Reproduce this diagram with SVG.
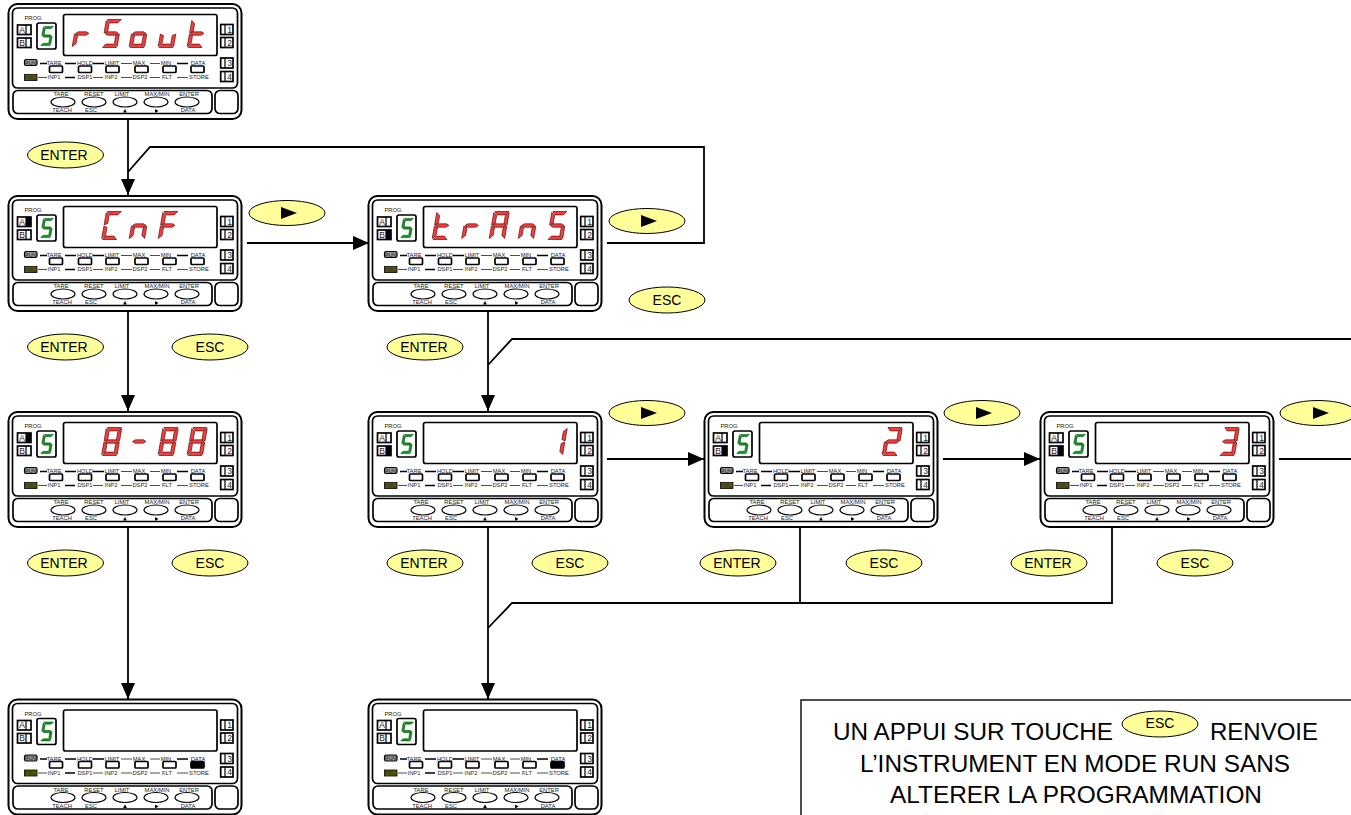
<svg xmlns="http://www.w3.org/2000/svg" width="1351" height="815" viewBox="0 0 1351 815">
<style>
text{font-family:"Liberation Sans",Arial,sans-serif;fill:#000;text-anchor:middle}
.s text{font-size:5.8px;fill:#222}
.s .b{font-size:8.5px}
.s .p{font-size:5px}
.o{fill:#fff;stroke:#000;stroke-width:2}
.i{fill:none;stroke:#000;stroke-width:1.7}
.e{fill:none;stroke:#000;stroke-width:1.1}
.th{stroke:#000;stroke-width:1.7;fill:none}
.tn{stroke:#222;stroke-width:.8;fill:none}
.dv{stroke:#000;stroke-width:1.2;fill:none}
.red{fill:#f33e3e;stroke:#4a0000;stroke-width:.6}
.grn{fill:#0a9a1e;stroke:#003000;stroke-width:.6}
.k{fill:#ffff99;stroke:#000;stroke-width:1}
.kt{font-size:14px}
.w{fill:none;stroke:#000;stroke-width:1.8}
.n{font-size:24.5px;text-anchor:start}
</style>
<defs>
<marker id="ah" markerUnits="userSpaceOnUse" markerWidth="17" markerHeight="15" refX="16" refY="7" orient="auto"><path d="M0 0L16 7L0 14z" fill="#000"/></marker>
<polygon id="a" points="1,-28 15,-28 11.8,-24.6 3.8,-24.6"/>
<polygon id="b" points="15.5,-27 15.5,-14.6 12.1,-16 12.1,-24"/>
<polygon id="c" points="15.5,-13.4 15.5,-1 12.1,-4 12.1,-12"/>
<polygon id="d" points="1,0 15,0 11.8,-3.4 3.8,-3.4"/>
<polygon id="e" points="0,-13.4 3.4,-12 3.4,-4 0,-1"/>
<polygon id="f" points="0,-27 3.4,-24 3.4,-16 0,-14.6"/>
<polygon id="g" points="1,-14 3.6,-15.7 11.9,-15.7 14.5,-14 11.9,-12.3 3.6,-12.3"/>
<g id="dS"><use href="#a"/><use href="#f"/><use href="#g"/><use href="#c"/><use href="#d"/></g>
<g id="dr"><use href="#e"/><use href="#g"/></g>
<g id="do"><use href="#g"/><use href="#c"/><use href="#d"/><use href="#e"/></g>
<g id="du"><use href="#e"/><use href="#d"/><use href="#c"/></g>
<g id="dt"><use href="#f"/><use href="#e"/><use href="#g"/><use href="#d"/></g>
<g id="dC"><use href="#a"/><use href="#f"/><use href="#e"/><use href="#d"/></g>
<g id="dn"><use href="#e"/><use href="#g"/><use href="#c"/></g>
<g id="dF"><use href="#a"/><use href="#f"/><use href="#g"/><use href="#e"/></g>
<g id="dA"><use href="#a"/><use href="#b"/><use href="#c"/><use href="#e"/><use href="#f"/><use href="#g"/></g>
<g id="d8"><use href="#a"/><use href="#b"/><use href="#c"/><use href="#d"/><use href="#e"/><use href="#f"/><use href="#g"/></g>
<g id="d1"><use href="#b"/><use href="#c"/></g>
<g id="d2"><use href="#a"/><use href="#b"/><use href="#g"/><use href="#e"/><use href="#d"/></g>
<g id="d3"><use href="#a"/><use href="#b"/><use href="#g"/><use href="#c"/><use href="#d"/></g>
<g id="dev">
<rect class="o" x="8.5" y="4" width="233" height="115" rx="9"/>
<rect class="i" x="12.5" y="8" width="225" height="80" rx="5"/>
<rect class="i" x="13" y="90.5" width="199" height="23" rx="5"/>
<rect class="i" x="215" y="90.5" width="23" height="23" rx="5"/>
<rect class="i" x="63.5" y="14.5" width="153.5" height="41" rx="2"/>
<rect class="i" x="37" y="23" width="19" height="26" rx="2"/>
<rect class="i" x="17.5" y="25" width="13.5" height="9.5"/><path class="dv" d="M26 25V34.5"/>
<rect class="i" x="17.5" y="38" width="13.5" height="9.5"/><path class="dv" d="M26 38V47.5"/>
<rect class="i" x="220.7" y="24.5" width="12.3" height="10"/><path class="dv" d="M225 24.5V34.5"/>
<rect class="i" x="220.7" y="37.5" width="12.3" height="10"/><path class="dv" d="M225 37.5V47.5"/>
<rect class="i" x="220.7" y="58" width="12.3" height="10"/><path class="dv" d="M225 58V68"/>
<rect class="i" x="220.7" y="71.5" width="12.3" height="10"/><path class="dv" d="M225 71.5V81.5"/>
<rect x="24.5" y="59.5" width="12.5" height="6" rx="1.5" fill="#999" stroke="#000" stroke-width="1.2"/>
<rect x="24.5" y="74.5" width="12.5" height="6" fill="#5f5f08" stroke="#000" stroke-width=".8"/>
<rect class="i" x="49.5" y="66" width="13" height="6.5" rx="1"/>
<rect class="i" x="78.5" y="66" width="13" height="6.5" rx="1"/>
<rect class="i" x="106" y="66" width="13" height="6.5" rx="1"/>
<rect class="i" x="135" y="66" width="13" height="6.5" rx="1"/>
<rect class="i" x="163" y="66" width="13" height="6.5" rx="1"/>
<rect class="i" x="191" y="66" width="13" height="6.5" rx="1"/>
<path class="th" d="M40 63.5H47M65 63.5H76M93 63.5H104M177 63.5H188M65 77.5H75"/>
<path class="tn" d="M121 63.5H132M150 63.5H160M38 77.5H47M93 77.5H103M121 77.5H132M150 77.5H160M177 77.5H188"/>
<g class="e"><ellipse cx="63" cy="102" rx="12" ry="5"/><ellipse cx="94" cy="102" rx="12" ry="5"/><ellipse cx="125" cy="102" rx="12" ry="5"/><ellipse cx="156" cy="102" rx="12" ry="5"/><ellipse cx="187" cy="102" rx="12" ry="5"/></g>
<path d="M125 109L127 112.5H123z" fill="#000"/><path d="M155 109L158.5 111L155 113z" fill="#000"/>
<g class="grn" transform="translate(40,45.5) scale(.68) skewX(-10)"><use href="#dS"/></g>
</g>
</defs>

<g id="connectors" class="w">
<path d="M128 120V195" marker-end="url(#ah)"/>
<path d="M607 243H704V147H150L128 172"/>
<path d="M247 243H369" marker-end="url(#ah)"/>
<path d="M128 312V411" marker-end="url(#ah)"/>
<path d="M128 528V699" marker-end="url(#ah)"/>
<path d="M488 312V411" marker-end="url(#ah)"/>
<path d="M1351 339H512L488 365"/>
<path d="M607 459H704" marker-end="url(#ah)"/>
<path d="M943 459H1040" marker-end="url(#ah)"/>
<path d="M1279 459H1351"/>
<path d="M488 528V699" marker-end="url(#ah)"/>
<path d="M800 528V603"/>
<path d="M1112 528V603H512L488 628"/>
</g>

<g id="n1" class="s"><use href="#dev"/>
<g class="red"><use href="#dr" transform="translate(72,47.5) skewX(-10)"/><use href="#dS" transform="translate(101.5,47.5) skewX(-10)"/><use href="#do" transform="translate(129,47.5) skewX(-10)"/><use href="#du" transform="translate(158,47.5) skewX(-10)"/><use href="#dt" transform="translate(187,47.5) skewX(-10)"/></g>
<text x="33" y="20">PROG</text><text class="b" x="22" y="32.5">A</text><text class="b" x="22" y="45.5">B</text><text class="b" x="229.5" y="32.5">1</text><text class="b" x="229.5" y="45.5">2</text><text class="b" x="229.5" y="66">3</text><text class="b" x="229.5" y="79.5">4</text><text class="p" x="30.5" y="64.5">RUN</text><text class="p" x="30.5" y="79.5">PRG</text>
<text x="54" y="65">TARE</text><text x="85" y="65">HOLD</text><text x="112" y="65">LIMIT</text><text x="139" y="65">MAX</text><text x="166" y="65">MIN</text><text x="198" y="65">DATA</text>
<text x="54" y="79">INP1</text><text x="85" y="79">DSP1</text><text x="111" y="79">INP2</text><text x="140" y="79">DSP2</text><text x="167" y="79">FLT</text><text x="199" y="79">STORE</text>
<text x="61" y="96">TARE</text><text x="94" y="96">RESET</text><text x="122" y="96">LIMIT</text><text x="157" y="96">MAX/MIN</text><text x="189" y="96">ENTER</text>
<text x="62" y="112">TEACH</text><text x="91" y="112">ESC</text><text x="188" y="112">DATA</text></g>

<g id="n2" class="s" transform="translate(0,192)"><use href="#dev"/>
<rect x="26" y="25" width="5" height="9.5" fill="#000"/>
<g class="red"><use href="#dC" transform="translate(101.5,47.5) skewX(-10)"/><use href="#dn" transform="translate(129,47.5) skewX(-10)"/><use href="#dF" transform="translate(158,47.5) skewX(-10)"/></g>
<text x="33" y="20">PROG</text><text class="b" x="22" y="32.5">A</text><text class="b" x="22" y="45.5">B</text><text class="b" x="229.5" y="32.5">1</text><text class="b" x="229.5" y="45.5">2</text><text class="b" x="229.5" y="66">3</text><text class="b" x="229.5" y="79.5">4</text><text class="p" x="30.5" y="64.5">RUN</text><text class="p" x="30.5" y="79.5">PRG</text>
<text x="54" y="65">TARE</text><text x="85" y="65">HOLD</text><text x="112" y="65">LIMIT</text><text x="139" y="65">MAX</text><text x="166" y="65">MIN</text><text x="198" y="65">DATA</text>
<text x="54" y="79">INP1</text><text x="85" y="79">DSP1</text><text x="111" y="79">INP2</text><text x="140" y="79">DSP2</text><text x="167" y="79">FLT</text><text x="199" y="79">STORE</text>
<text x="61" y="96">TARE</text><text x="94" y="96">RESET</text><text x="122" y="96">LIMIT</text><text x="157" y="96">MAX/MIN</text><text x="189" y="96">ENTER</text>
<text x="62" y="112">TEACH</text><text x="91" y="112">ESC</text><text x="188" y="112">DATA</text></g>

<g id="n3" class="s" transform="translate(360,192)"><use href="#dev"/>
<rect x="26" y="38" width="5" height="9.5" fill="#000"/>
<g class="red"><use href="#dt" transform="translate(72,47.5) skewX(-10)"/><use href="#dr" transform="translate(101.5,47.5) skewX(-10)"/><use href="#dA" transform="translate(129,47.5) skewX(-10)"/><use href="#dn" transform="translate(158,47.5) skewX(-10)"/><use href="#dS" transform="translate(187,47.5) skewX(-10)"/></g>
<text x="33" y="20">PROG</text><text class="b" x="22" y="32.5">A</text><text class="b" x="22" y="45.5">B</text><text class="b" x="229.5" y="32.5">1</text><text class="b" x="229.5" y="45.5">2</text><text class="b" x="229.5" y="66">3</text><text class="b" x="229.5" y="79.5">4</text><text class="p" x="30.5" y="64.5">RUN</text><text class="p" x="30.5" y="79.5">PRG</text>
<text x="54" y="65">TARE</text><text x="85" y="65">HOLD</text><text x="112" y="65">LIMIT</text><text x="139" y="65">MAX</text><text x="166" y="65">MIN</text><text x="198" y="65">DATA</text>
<text x="54" y="79">INP1</text><text x="85" y="79">DSP1</text><text x="111" y="79">INP2</text><text x="140" y="79">DSP2</text><text x="167" y="79">FLT</text><text x="199" y="79">STORE</text>
<text x="61" y="96">TARE</text><text x="94" y="96">RESET</text><text x="122" y="96">LIMIT</text><text x="157" y="96">MAX/MIN</text><text x="189" y="96">ENTER</text>
<text x="62" y="112">TEACH</text><text x="91" y="112">ESC</text><text x="188" y="112">DATA</text></g>

<g id="n4" class="s" transform="translate(0,408)"><use href="#dev"/>
<rect x="26" y="25" width="5" height="9.5" fill="#000"/>
<g class="red"><use href="#d8" transform="translate(101.5,47.5) skewX(-10)"/><use href="#g" transform="translate(129,47.5) skewX(-10)"/><use href="#d8" transform="translate(158,47.5) skewX(-10)"/><use href="#d8" transform="translate(187,47.5) skewX(-10)"/></g>
<text x="33" y="20">PROG</text><text class="b" x="22" y="32.5">A</text><text class="b" x="22" y="45.5">B</text><text class="b" x="229.5" y="32.5">1</text><text class="b" x="229.5" y="45.5">2</text><text class="b" x="229.5" y="66">3</text><text class="b" x="229.5" y="79.5">4</text><text class="p" x="30.5" y="64.5">RUN</text><text class="p" x="30.5" y="79.5">PRG</text>
<text x="54" y="65">TARE</text><text x="85" y="65">HOLD</text><text x="112" y="65">LIMIT</text><text x="139" y="65">MAX</text><text x="166" y="65">MIN</text><text x="198" y="65">DATA</text>
<text x="54" y="79">INP1</text><text x="85" y="79">DSP1</text><text x="111" y="79">INP2</text><text x="140" y="79">DSP2</text><text x="167" y="79">FLT</text><text x="199" y="79">STORE</text>
<text x="61" y="96">TARE</text><text x="94" y="96">RESET</text><text x="122" y="96">LIMIT</text><text x="157" y="96">MAX/MIN</text><text x="189" y="96">ENTER</text>
<text x="62" y="112">TEACH</text><text x="91" y="112">ESC</text><text x="188" y="112">DATA</text></g>

<g id="n5" class="s" transform="translate(360,408)"><use href="#dev"/>
<rect x="26" y="38" width="5" height="9.5" fill="#000"/>
<g class="red"><use href="#d1" transform="translate(187,47.5) skewX(-10)"/></g>
<text x="33" y="20">PROG</text><text class="b" x="22" y="32.5">A</text><text class="b" x="22" y="45.5">B</text><text class="b" x="229.5" y="32.5">1</text><text class="b" x="229.5" y="45.5">2</text><text class="b" x="229.5" y="66">3</text><text class="b" x="229.5" y="79.5">4</text><text class="p" x="30.5" y="64.5">RUN</text><text class="p" x="30.5" y="79.5">PRG</text>
<text x="54" y="65">TARE</text><text x="85" y="65">HOLD</text><text x="112" y="65">LIMIT</text><text x="139" y="65">MAX</text><text x="166" y="65">MIN</text><text x="198" y="65">DATA</text>
<text x="54" y="79">INP1</text><text x="85" y="79">DSP1</text><text x="111" y="79">INP2</text><text x="140" y="79">DSP2</text><text x="167" y="79">FLT</text><text x="199" y="79">STORE</text>
<text x="61" y="96">TARE</text><text x="94" y="96">RESET</text><text x="122" y="96">LIMIT</text><text x="157" y="96">MAX/MIN</text><text x="189" y="96">ENTER</text>
<text x="62" y="112">TEACH</text><text x="91" y="112">ESC</text><text x="188" y="112">DATA</text></g>

<g id="n6" class="s" transform="translate(696,408)"><use href="#dev"/>
<rect x="26" y="38" width="5" height="9.5" fill="#000"/>
<g class="red"><use href="#d2" transform="translate(186,47.5) skewX(-10)"/></g>
<text x="33" y="20">PROG</text><text class="b" x="22" y="32.5">A</text><text class="b" x="22" y="45.5">B</text><text class="b" x="229.5" y="32.5">1</text><text class="b" x="229.5" y="45.5">2</text><text class="b" x="229.5" y="66">3</text><text class="b" x="229.5" y="79.5">4</text><text class="p" x="30.5" y="64.5">RUN</text><text class="p" x="30.5" y="79.5">PRG</text>
<text x="54" y="65">TARE</text><text x="85" y="65">HOLD</text><text x="112" y="65">LIMIT</text><text x="139" y="65">MAX</text><text x="166" y="65">MIN</text><text x="198" y="65">DATA</text>
<text x="54" y="79">INP1</text><text x="85" y="79">DSP1</text><text x="111" y="79">INP2</text><text x="140" y="79">DSP2</text><text x="167" y="79">FLT</text><text x="199" y="79">STORE</text>
<text x="61" y="96">TARE</text><text x="94" y="96">RESET</text><text x="122" y="96">LIMIT</text><text x="157" y="96">MAX/MIN</text><text x="189" y="96">ENTER</text>
<text x="62" y="112">TEACH</text><text x="91" y="112">ESC</text><text x="188" y="112">DATA</text></g>

<g id="n7" class="s" transform="translate(1032,408)"><use href="#dev"/>
<rect x="26" y="38" width="5" height="9.5" fill="#000"/>
<g class="red"><use href="#d3" transform="translate(187,47.5) skewX(-10)"/></g>
<text x="33" y="20">PROG</text><text class="b" x="22" y="32.5">A</text><text class="b" x="22" y="45.5">B</text><text class="b" x="229.5" y="32.5">1</text><text class="b" x="229.5" y="45.5">2</text><text class="b" x="229.5" y="66">3</text><text class="b" x="229.5" y="79.5">4</text><text class="p" x="30.5" y="64.5">RUN</text><text class="p" x="30.5" y="79.5">PRG</text>
<text x="54" y="65">TARE</text><text x="85" y="65">HOLD</text><text x="112" y="65">LIMIT</text><text x="139" y="65">MAX</text><text x="166" y="65">MIN</text><text x="198" y="65">DATA</text>
<text x="54" y="79">INP1</text><text x="85" y="79">DSP1</text><text x="111" y="79">INP2</text><text x="140" y="79">DSP2</text><text x="167" y="79">FLT</text><text x="199" y="79">STORE</text>
<text x="61" y="96">TARE</text><text x="94" y="96">RESET</text><text x="122" y="96">LIMIT</text><text x="157" y="96">MAX/MIN</text><text x="189" y="96">ENTER</text>
<text x="62" y="112">TEACH</text><text x="91" y="112">ESC</text><text x="188" y="112">DATA</text></g>

<g id="n8" class="s" transform="translate(0,695.5)"><use href="#dev"/>
<rect x="191" y="66" width="13" height="6.5" fill="#000"/>
<text x="33" y="20">PROG</text><text class="b" x="22" y="32.5">A</text><text class="b" x="22" y="45.5">B</text><text class="b" x="229.5" y="32.5">1</text><text class="b" x="229.5" y="45.5">2</text><text class="b" x="229.5" y="66">3</text><text class="b" x="229.5" y="79.5">4</text><text class="p" x="30.5" y="64.5">RUN</text><text class="p" x="30.5" y="79.5">PRG</text>
<text x="54" y="65">TARE</text><text x="85" y="65">HOLD</text><text x="112" y="65">LIMIT</text><text x="139" y="65">MAX</text><text x="166" y="65">MIN</text><text x="198" y="65">DATA</text>
<text x="54" y="79">INP1</text><text x="85" y="79">DSP1</text><text x="111" y="79">INP2</text><text x="140" y="79">DSP2</text><text x="167" y="79">FLT</text><text x="199" y="79">STORE</text>
<text x="61" y="96">TARE</text><text x="94" y="96">RESET</text><text x="122" y="96">LIMIT</text><text x="157" y="96">MAX/MIN</text><text x="189" y="96">ENTER</text>
<text x="62" y="112">TEACH</text><text x="91" y="112">ESC</text><text x="188" y="112">DATA</text></g>

<g id="n9" class="s" transform="translate(360,695.5)"><use href="#dev"/>
<rect x="191" y="66" width="13" height="6.5" fill="#000"/>
<text x="33" y="20">PROG</text><text class="b" x="22" y="32.5">A</text><text class="b" x="22" y="45.5">B</text><text class="b" x="229.5" y="32.5">1</text><text class="b" x="229.5" y="45.5">2</text><text class="b" x="229.5" y="66">3</text><text class="b" x="229.5" y="79.5">4</text><text class="p" x="30.5" y="64.5">RUN</text><text class="p" x="30.5" y="79.5">PRG</text>
<text x="54" y="65">TARE</text><text x="85" y="65">HOLD</text><text x="112" y="65">LIMIT</text><text x="139" y="65">MAX</text><text x="166" y="65">MIN</text><text x="198" y="65">DATA</text>
<text x="54" y="79">INP1</text><text x="85" y="79">DSP1</text><text x="111" y="79">INP2</text><text x="140" y="79">DSP2</text><text x="167" y="79">FLT</text><text x="199" y="79">STORE</text>
<text x="61" y="96">TARE</text><text x="94" y="96">RESET</text><text x="122" y="96">LIMIT</text><text x="157" y="96">MAX/MIN</text><text x="189" y="96">ENTER</text>
<text x="62" y="112">TEACH</text><text x="91" y="112">ESC</text><text x="188" y="112">DATA</text></g>

<g id="keys">
<g id="k1"><ellipse class="k" cx="65.5" cy="155" rx="38" ry="13"/><text class="kt" x="64" y="159.5">ENTER</text></g>
<g id="k2"><ellipse class="k" cx="287" cy="213" rx="38" ry="12.5"/><path d="M281 207L297 213L281 219z"/></g>
<g id="k3"><ellipse class="k" cx="647" cy="221" rx="38" ry="12.5"/><path d="M641 215L657 221L641 227z"/></g>
<g id="k4"><ellipse class="k" cx="667" cy="300" rx="38" ry="13"/><text class="kt" x="667" y="304.5">ESC</text></g>
<g id="k5"><ellipse class="k" cx="65.5" cy="347" rx="38" ry="13"/><text class="kt" x="64" y="351.5">ENTER</text></g>
<g id="k6"><ellipse class="k" cx="210" cy="347" rx="38" ry="13"/><text class="kt" x="210" y="351.5">ESC</text></g>
<g id="k7"><ellipse class="k" cx="425" cy="347" rx="38" ry="13"/><text class="kt" x="424" y="351.5">ENTER</text></g>
<g id="k8"><ellipse class="k" cx="647" cy="413" rx="38" ry="12.5"/><path d="M641 407L657 413L641 419z"/></g>
<g id="k9"><ellipse class="k" cx="982" cy="413" rx="38" ry="12.5"/><path d="M976 407L992 413L976 419z"/></g>
<g id="k10"><ellipse class="k" cx="1318" cy="413" rx="38" ry="12.5"/><path d="M1313 407L1329 413L1313 419z"/></g>
<g id="k11"><ellipse class="k" cx="65.5" cy="563" rx="38" ry="13"/><text class="kt" x="64" y="567.5">ENTER</text></g>
<g id="k12"><ellipse class="k" cx="210" cy="563" rx="38" ry="13"/><text class="kt" x="210" y="567.5">ESC</text></g>
<g id="k13"><ellipse class="k" cx="425" cy="563" rx="38" ry="13"/><text class="kt" x="424" y="567.5">ENTER</text></g>
<g id="k14"><ellipse class="k" cx="570" cy="563" rx="38" ry="13"/><text class="kt" x="570" y="567.5">ESC</text></g>
<g id="k15"><ellipse class="k" cx="738" cy="563" rx="38" ry="13"/><text class="kt" x="737" y="567.5">ENTER</text></g>
<g id="k16"><ellipse class="k" cx="884" cy="563" rx="38" ry="13"/><text class="kt" x="884" y="567.5">ESC</text></g>
<g id="k17"><ellipse class="k" cx="1049" cy="563" rx="38" ry="13"/><text class="kt" x="1048" y="567.5">ENTER</text></g>
<g id="k18"><ellipse class="k" cx="1195" cy="563" rx="38" ry="13"/><text class="kt" x="1195" y="567.5">ESC</text></g>
</g>

<g id="note">
<rect x="801" y="700" width="620" height="200" fill="#fff" stroke="#222" stroke-width="1.6"/>
<text class="n" x="833" y="740" textLength="280" lengthAdjust="spacingAndGlyphs">UN APPUI SUR TOUCHE</text>
<ellipse class="k" cx="1160" cy="724" rx="38" ry="13"/><text class="kt" x="1160" y="728">ESC</text>
<text class="n" x="1210" y="740" textLength="108" lengthAdjust="spacingAndGlyphs">RENVOIE</text>
<text class="n" x="860" y="771.5" textLength="430" lengthAdjust="spacingAndGlyphs">L’INSTRUMENT EN MODE RUN SANS</text>
<text class="n" x="890" y="803" textLength="372" lengthAdjust="spacingAndGlyphs">ALTERER LA PROGRAMMATION</text>
</g>
</svg>
